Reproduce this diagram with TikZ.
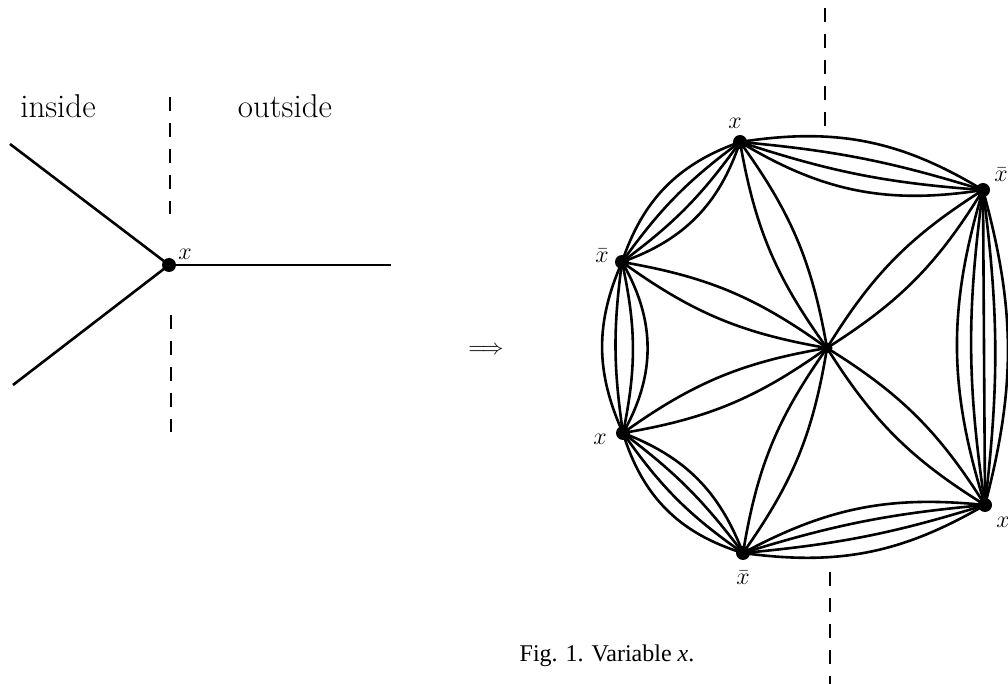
\documentclass[tikz,border=0pt]{standalone}
\usepackage{fontspec}
\newfontfamily\capfont{Liberation Serif}
\pgfdeclarelayer{bg}
\pgfsetlayers{bg,main}
\begin{document}
\begin{tikzpicture}[x=0.5pt,y=-0.5pt,
  wire/.style={line width=1.3pt},
  dotnode/.style={circle,fill=black,inner sep=0pt,minimum size=7pt},
  hubnode/.style={circle,fill=black,inner sep=0pt,minimum size=5.5pt},
  cut/.style={line width=1.2pt,dash pattern=on 7pt off 6pt},
  word/.style={font=\fontsize{16.5}{20}\selectfont},
  lbl/.style={font=\fontsize{12}{14}\selectfont,inner sep=0pt}]
\useasboundingbox (0,0) rectangle (1008,684);

% ---------- left diagram ----------
\node[dotnode] (v) at (169,265) {};
\coordinate (a1) at (10,144);
\coordinate (a2) at (13,385);
\coordinate (a3) at (391,265);
\begin{pgfonlayer}{bg}
\draw[wire] (a1) -- (v.center);
\draw[wire] (a2) -- (v.center);
\draw[wire] (v.center) -- (a3);
\end{pgfonlayer}
\coordinate (d1) at (170,97);
\coordinate (d2) at (170,214);
\coordinate (d3) at (171,315);
\coordinate (d4) at (171,432);
\draw[cut] (d1) -- (d2);
\draw[cut] (d3) -- (d4);
\node[word] (inside) at (58,106) {inside};
\node[word] (outside) at (285,106) {outside};
\node[lbl] (vx) at (185,254) {$x$};

% ---------- arrow ----------
\node[font=\fontsize{11}{13}\selectfont,inner sep=0pt] (arr) at (486,350) {$\Longrightarrow$};

% ---------- right diagram ----------
\node[dotnode] (T)  at (740,142) {};
\node[dotnode] (TR) at (983,190) {};
\node[dotnode] (BR) at (985,505) {};
\node[dotnode] (B)  at (743,553) {};
\node[dotnode] (LL) at (623,433) {};
\node[dotnode] (L)  at (622,262) {};
\node[hubnode] (C)  at (827,348) {};

\begin{pgfonlayer}{bg}
\foreach \b in {20,6,-7,-20} \draw[wire] (T.center) to[bend left=\b] (TR.center);
\foreach \b in {15,7,0,-8,-17} \draw[wire] (TR.center) to[bend left=\b] (BR.center);
\foreach \b in {19,6,-6,-17} \draw[wire] (BR.center) to[bend left=\b] (B.center);
\foreach \b in {28,10,-8,-24} \draw[wire] (B.center) to[bend left=\b] (LL.center);
\foreach \b in {24,8,-12,-30} \draw[wire] (LL.center) to[bend left=\b] (L.center);
\foreach \b in {26,9,-9,-26} \draw[wire] (L.center) to[bend left=\b] (T.center);
\foreach \n in {T,TR,BR,B,LL,L}
  \foreach \b in {13,-13} \draw[wire] (C.center) to[bend left=\b] (\n.center);
\end{pgfonlayer}

\coordinate (e1) at (825,8);
\coordinate (e2) at (825,126);
\coordinate (e3) at (830,572);
\coordinate (e4) at (830,690);
\draw[cut] (e1) -- (e2);
\draw[cut] (e3) -- (e4);

\node[lbl] (lT)  at (735,123) {$x$};
\node[lbl] (lTR) at (1001,175) {$\bar{x}$};
\node[lbl] (lL)  at (602,256) {$\bar{x}$};
\node[lbl] (lLL) at (600,439) {$x$};
\node[lbl] (lB)  at (743,578) {$\bar{x}$};
\node[lbl] (lBR) at (1003,522) {$x$};

% ---------- caption ----------
\node[font=\capfont\fontsize{12}{14}\selectfont] (cap) at (607,656) {Fig. 1. Variable \textit{x}.};
\end{tikzpicture}
\end{document}
